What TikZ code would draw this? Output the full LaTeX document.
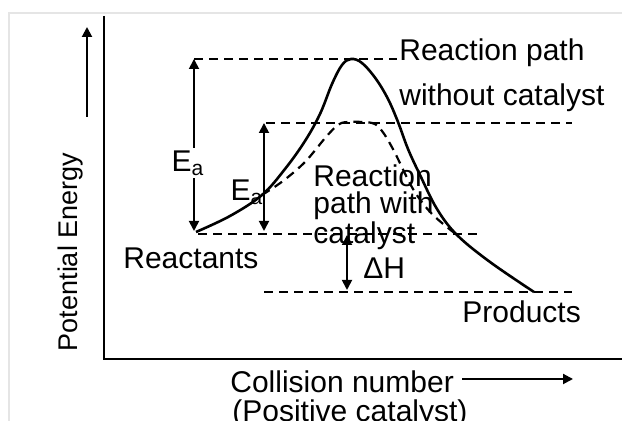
\documentclass[tikz,border=0pt]{standalone}
\usepackage{fontspec}
\setmainfont{Liberation Sans}
\usetikzlibrary{arrows.meta, calc}

\begin{document}
\begin{tikzpicture}[x=0.5pt, y=0.5pt, font=\fontsize{15}{18}\selectfont]

% --- Styles ---
\tikzset{
    axisline/.style={line width=1.3pt, black},
    pathline/.style={line width=1.3pt, black},
    levelline/.style={line width=1.1pt, dash pattern=on 4.5pt off 3pt, black},
    energyarrow/.style={line width=0.9pt, {Triangle[length=5pt, width=5pt]}-{Triangle[length=5pt, width=5pt]}},
    lbl/.style={inner sep=0pt, anchor=west},
}

\useasboundingbox (0,0) rectangle (622,421);

% --- Frame and axes ---
\draw[gray!20, line width=0.6pt] (9,0) -- (9,408) -- (622,408);

\coordinate (origin) at (104,62);
\coordinate (ytop) at (104,405);
\coordinate (xend) at (622,62);
\draw[axisline] (ytop) -- (origin) -- (xend);

\coordinate (ya0) at (87,304);
\coordinate (ya1) at (87,394);
\draw[line width=1pt, -{Triangle[length=5pt, width=5pt]}] (ya0) -- (ya1);
\node[rotate=90, inner sep=0pt, font=\fontsize{13.5}{16}\selectfont] (ylab) at (71,169) {Potential Energy};

\node[lbl] (xlab) at (230,39) {Collision number};
\node[lbl] (xlab2) at (232,7) {(Positive catalyst)};
\coordinate (xa0) at (462,42);
\coordinate (xa1) at (573,42);
\draw[line width=1pt, -{Triangle[length=5pt, width=5pt]}] (xa0) -- (xa1);

% --- Energy levels ---
\coordinate (topL) at (194,362);
\coordinate (topR) at (397,362);
\coordinate (midL) at (266,298);
\coordinate (midR) at (572,298);
\coordinate (reacL) at (198,187);
\coordinate (reacR) at (480,187);
\coordinate (prodL) at (264,129);
\coordinate (prodR) at (572,129);

\draw[levelline] (topL) -- (topR);
\draw[levelline] (midL) -- (midR);
\draw[levelline] (reacL) -- (reacR);
\draw[levelline] (prodL) -- (prodR);

% --- Reaction paths ---
\draw[pathline] plot[smooth, tension=0.6] coordinates {
    (196,189) (230,205) (262,226) (285,252) (305,280) (320,307) (332,337)
    (342,356) (351,362) (362,358) (376,342) (388,322) (398,299) (408,272)
    (420,246) (437,212) (457,186) (490,159) (534,129)};
\draw[levelline] plot[smooth, tension=0.55] coordinates {
    (262,226) (283,240) (305,259) (326,284) (338,296) (348,299) (372,298)
    (382,290) (394,270) (413,232) (432,207) (457,186)};

% --- Energy arrows ---
\coordinate (eaTop) at (194,362);
\coordinate (eaBot) at (194,190);
\coordinate (ecTop) at (264,298);
\coordinate (ecBot) at (264,190);
\coordinate (dhTop) at (347,186);
\coordinate (dhBot) at (347,131);

\draw[energyarrow] (eaTop) -- (eaBot);
\draw[energyarrow] (ecTop) -- (ecBot);
\draw[energyarrow] (dhTop) -- (dhBot);

% --- Labels ---
\node[fill=white, inner sep=1pt] (ea) at (188,258) {E\textsubscript{a}};
\node[inner sep=0pt] (ec) at (247,229) {E\textsubscript{a}};
\node[lbl] (dh) at (363,153) {ΔH};

\node[lbl] (rpath) at (399,368) {Reaction path};
\node[lbl] (rpath2) at (399,323) {without catalyst};
\node[lbl, align=left, font=\fontsize{15}{13.5}\selectfont] (catlab) at (313,214) {Reaction\\path with\\catalyst};

\node[lbl] (reaclab) at (123,163) {Reactants};
\node[lbl] (prodlab) at (462,109) {Products};

\end{tikzpicture}
\end{document}
